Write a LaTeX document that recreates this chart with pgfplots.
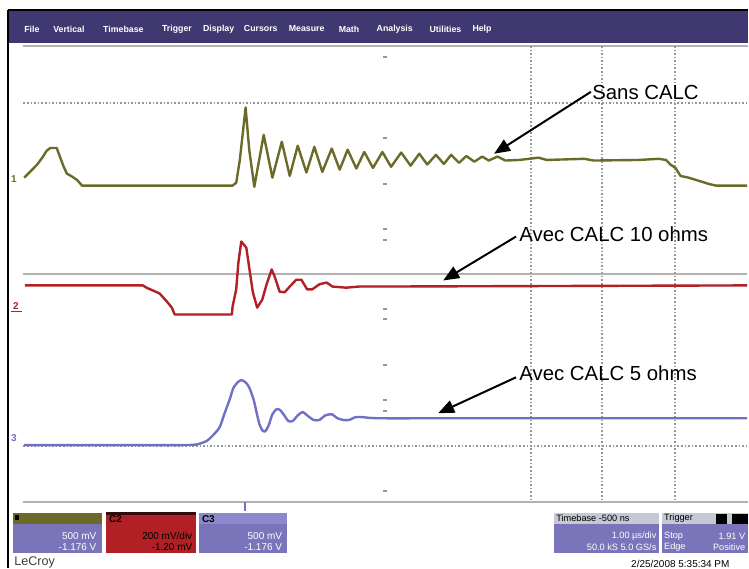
\documentclass[border=0pt]{standalone}
\usepackage{pgfplots}
\pgfplotsset{compat=1.18}
\usepackage{fontspec}
\setmainfont{Liberation Sans}
\usetikzlibrary{arrows.meta}

\definecolor{hdr}{RGB}{64,56,112}
\definecolor{cone}{RGB}{108,106,40}
\definecolor{ctwo}{RGB}{176,32,36}
\definecolor{cthree}{RGB}{112,112,196}
\definecolor{lav}{RGB}{122,117,186}
\definecolor{lavtop}{RGB}{140,136,205}
\definecolor{gridc}{RGB}{150,150,150}
\definecolor{framec}{RGB}{178,178,178}
\definecolor{tbtop}{RGB}{200,200,212}

\begin{document}
\begin{tikzpicture}
\begin{axis}[
  width=374.5pt, height=284.5pt, scale only axis,
  xmin=0, xmax=749, ymin=0, ymax=569, y dir=reverse,
  hide axis, clip=false,
  % traces are in screen divisions: 10 x 8
  div/.style={x filter/.expression={23.5+72.5*x}, y filter/.expression={503-57.125*y}},
  trace/.style={div, no marks, line width=1.2pt, line join=round},
]
% screen background and frame
\fill[white] (0,0) rectangle (749,569);
\fill[hdr] (8,10) rectangle (749,43);
\draw[black, line width=1pt] (8,10) -- (749,10);
\draw[black, line width=1pt] (8,10) -- (8,569);
\draw[framec, line width=1.4pt] (23,46) -- (749,46);
\draw[framec, line width=1.4pt] (23,503) -- (749,503);

% menu bar
\node[anchor=west, inner sep=0, text=white, font=\fontsize{4.4}{5}\selectfont\bfseries] at (24,29) {File};
\node[anchor=west, inner sep=0, text=white, font=\fontsize{4.4}{5}\selectfont\bfseries] at (53,29) {Vertical};
\node[anchor=west, inner sep=0, text=white, font=\fontsize{4.4}{5}\selectfont\bfseries] at (103,29) {Timebase};
\node[anchor=west, inner sep=0, text=white, font=\fontsize{4.4}{5}\selectfont\bfseries] at (162,29) {Trigger};
\node[anchor=west, inner sep=0, text=white, font=\fontsize{4.4}{5}\selectfont\bfseries] at (203,29) {Display};
\node[anchor=west, inner sep=0, text=white, font=\fontsize{4.4}{5}\selectfont\bfseries] at (244,29) {Cursors};
\node[anchor=west, inner sep=0, text=white, font=\fontsize{4.4}{5}\selectfont\bfseries] at (289,29) {Measure};
\node[anchor=west, inner sep=0, text=white, font=\fontsize{4.4}{5}\selectfont\bfseries] at (339,29) {Math};
\node[anchor=west, inner sep=0, text=white, font=\fontsize{4.4}{5}\selectfont\bfseries] at (377,29) {Analysis};
\node[anchor=west, inner sep=0, text=white, font=\fontsize{4.4}{5}\selectfont\bfseries] at (430,29) {Utilities};
\node[anchor=west, inner sep=0, text=white, font=\fontsize{4.4}{5}\selectfont\bfseries] at (473,29) {Help};

% graticule
\draw[gridc, line width=0.9pt, dash pattern=on 0.8pt off 1pt] (23.5,103) -- (748.5,103);
\draw[gridc, line width=0.9pt, dash pattern=on 0.8pt off 1pt] (23.5,447) -- (748.5,447);
\draw[gridc, line width=0.9pt, dash pattern=on 0.8pt off 1pt] (531.7,46) -- (531.7,503);
\draw[gridc, line width=0.9pt, dash pattern=on 0.8pt off 1pt] (603.3,46) -- (603.3,503);
\draw[gridc, line width=0.9pt, dash pattern=on 0.8pt off 1pt] (676,46) -- (676,503);
\draw[framec, line width=1.1pt] (23.5,274.5) -- (748.5,274.5);
\draw[gridc, line width=1pt]
  (384,57) -- (388,57) (384,138) -- (388,138) (384,184) -- (388,184)
  (384,229) -- (388,229) (384,240) -- (388,240) (384,310) -- (388,310)
  (384,320) -- (388,320) (384,366) -- (388,366) (384,401) -- (388,401)
  (384,412) -- (388,412) (384,492) -- (388,492);

% channel markers
\node[anchor=center, inner sep=0, text=cone, font=\fontsize{5}{5}\selectfont\bfseries] at (14,179) {1};
\node[anchor=center, inner sep=0, text=ctwo, font=\fontsize{5}{5}\selectfont\bfseries] at (16,307) {2};
\draw[ctwo, line width=0.8pt] (11,312) -- (22,312);
\node[anchor=center, inner sep=0, text=cthree, font=\fontsize{5}{5}\selectfont\bfseries] at (14,439) {3};
\draw[cthree, line width=1pt] (245,503) -- (245,512);

% C1 - sans CALC
\addplot[trace, cone] coordinates {
(0.01,5.69) (0.09,5.79) (0.19,5.92) (0.26,6.04) (0.32,6.16) (0.37,6.21)
(0.46,6.21) (0.50,6.07) (0.55,5.90) (0.60,5.76) (0.67,5.71) (0.74,5.65)
(0.81,5.55) (2.89,5.55) (2.94,5.60) (2.99,6.00) (3.07,6.92) (3.12,6.18)
(3.19,5.53) (3.32,6.44) (3.44,5.69) (3.57,6.32) (3.68,5.72) (3.79,6.25)
(3.91,5.78) (4.02,6.23) (4.13,5.79) (4.26,6.20) (4.37,5.83) (4.48,6.18)
(4.60,5.85) (4.71,6.14) (4.83,5.86) (4.96,6.14) (5.08,5.88) (5.22,6.13)
(5.35,5.90) (5.47,6.11) (5.58,5.92) (5.70,6.09) (5.81,5.93) (5.91,6.09)
(6.02,5.95) (6.12,6.07) (6.23,5.97) (6.34,6.06) (6.43,5.99) (6.55,6.06)
(6.66,5.99) (6.85,6.00) (7.12,6.04) (7.23,6.00) (7.75,6.02) (7.88,5.99)
(8.50,6.00) (8.78,6.02) (8.88,6.00) (8.94,5.92) (9.01,5.86) (9.08,5.72)
(9.19,5.69) (9.37,5.62) (9.47,5.58) (9.57,5.55) (10.00,5.55)
};

% C2 - avec CALC 10 ohms
\addplot[trace, ctwo] coordinates {
(0.02,3.80) (1.65,3.80) (1.70,3.76) (1.79,3.71) (1.88,3.66) (1.98,3.52)
(2.05,3.41) (2.09,3.29) (2.88,3.29) (2.89,3.43) (2.94,3.73) (2.97,4.20)
(3.01,4.57) (3.08,4.46) (3.12,4.11) (3.17,3.68) (3.23,3.41) (3.30,3.55)
(3.36,3.82) (3.43,4.08) (3.47,3.96) (3.54,3.69) (3.61,3.68) (3.68,3.78)
(3.77,3.90) (3.84,3.90) (3.92,3.73) (3.99,3.73) (4.09,3.82) (4.19,3.85)
(4.27,3.78) (4.46,3.76) (4.64,3.78) (4.92,3.78) (10.00,3.80)
};

% C3 - avec CALC 5 ohms
\addplot[trace, cthree, smooth, tension=0.4] coordinates {
(0.01,1.00) (1.20,1.00) (2.20,1.00) (2.39,1.01) (2.53,1.07) (2.61,1.16)
(2.71,1.31) (2.78,1.56)
(2.85,1.80) (2.90,2.00) (2.96,2.10) (3.01,2.14) (3.07,2.10) (3.12,2.01)
(3.18,1.80) (3.22,1.58) (3.26,1.37) (3.30,1.26) (3.34,1.24) (3.39,1.35)
(3.44,1.54) (3.50,1.63) (3.55,1.61) (3.61,1.51) (3.66,1.42) (3.72,1.42)
(3.79,1.52) (3.86,1.58) (3.92,1.52) (4.01,1.44) (4.09,1.44) (4.17,1.52)
(4.26,1.54) (4.34,1.47) (4.42,1.44) (4.50,1.44) (4.59,1.49) (4.68,1.49)
(4.92,1.47) (6.00,1.47) (10.00,1.47)
};

% annotations
\node[anchor=base west, inner sep=0, font=\fontsize{10.2}{12}\selectfont] at (593,99.5) {Sans CALC};
\draw[line width=1pt, -{Triangle[length=8pt,width=6.5pt]}] (592,92) -- (495,154);
\node[anchor=base west, inner sep=0, font=\fontsize{10.2}{12}\selectfont] at (520,242) {Avec CALC 10 ohms};
\draw[line width=1pt, -{Triangle[length=8pt,width=6.5pt]}] (517,237) -- (444,281);
\node[anchor=base west, inner sep=0, font=\fontsize{10.2}{12}\selectfont] at (520,381) {Avec CALC 5 ohms};
\draw[line width=1pt, -{Triangle[length=8pt,width=6.5pt]}] (517,378) -- (439,414);

% channel boxes
\fill[lav] (13,514) rectangle (102,554);
\fill[cone] (13,514) rectangle (102,525);
\fill[black] (15,516) rectangle (19,521);
\node[anchor=east, inner sep=0, text=white, font=\fontsize{5}{6}\selectfont] at (97,537) {500 mV};
\node[anchor=east, inner sep=0, text=white, font=\fontsize{5}{6}\selectfont] at (97,548) {-1.176 V};

\fill[ctwo] (106,514) rectangle (196,554);
\fill[black!70!ctwo] (106,513) rectangle (196,515.5);
\node[anchor=west, inner sep=0, text=black, font=\fontsize{5}{6}\selectfont\bfseries] at (109,520) {C2};
\node[anchor=east, inner sep=0, text=black, font=\fontsize{5}{6}\selectfont] at (193,537) {200 mV/div};
\node[anchor=east, inner sep=0, text=black, font=\fontsize{5}{6}\selectfont] at (193,548) {-1.20 mV};

\fill[lav] (199,514) rectangle (288,554);
\fill[lavtop] (199,514) rectangle (288,525);
\node[anchor=west, inner sep=0, text=black, font=\fontsize{5}{6}\selectfont\bfseries] at (202,520) {C3};
\node[anchor=east, inner sep=0, text=white, font=\fontsize{5}{6}\selectfont] at (283,537) {500 mV};
\node[anchor=east, inner sep=0, text=white, font=\fontsize{5}{6}\selectfont] at (283,548) {-1.176 V};

\fill[lav] (555,514) rectangle (660,554);
\fill[tbtop] (555,514) rectangle (660,525);
\node[anchor=west, inner sep=0, text=black, font=\fontsize{4.6}{5}\selectfont] at (557,519.5) {Timebase  -500 ns};
\node[anchor=east, inner sep=0, text=white, font=\fontsize{4.6}{5}\selectfont] at (658,537) {1.00 \textmu s/div};
\node[anchor=east, inner sep=0, text=white, font=\fontsize{4.6}{5}\selectfont] at (658,548) {50.0 kS  5.0 GS/s};

\fill[lav] (663,514) rectangle (749,554);
\fill[tbtop] (663,514) rectangle (749,525);
\fill[black] (717,514.5) rectangle (728,524.5);
\fill[black] (733,514.5) rectangle (749,524.5);
\node[anchor=west, inner sep=0, text=black, font=\fontsize{4.6}{5}\selectfont] at (665,519.5) {Trigger};
\node[anchor=west, inner sep=0, text=white, font=\fontsize{4.6}{5}\selectfont] at (665,537) {Stop};
\node[anchor=east, inner sep=0, text=white, font=\fontsize{4.6}{5}\selectfont] at (747,537) {1.91 V};
\node[anchor=west, inner sep=0, text=white, font=\fontsize{4.6}{5}\selectfont] at (665,548) {Edge};
\node[anchor=east, inner sep=0, text=white, font=\fontsize{4.6}{5}\selectfont] at (747,548) {Positive};

% footer
\node[anchor=west, inner sep=0, text=black!75, font=\fontsize{6.3}{7}\selectfont] at (14,563) {LeCroy};
\node[anchor=west, inner sep=0, text=black, font=\fontsize{5}{6}\selectfont] at (632,565) {2/25/2008 5:35:34 PM};
\end{axis}
\end{tikzpicture}
\end{document}
